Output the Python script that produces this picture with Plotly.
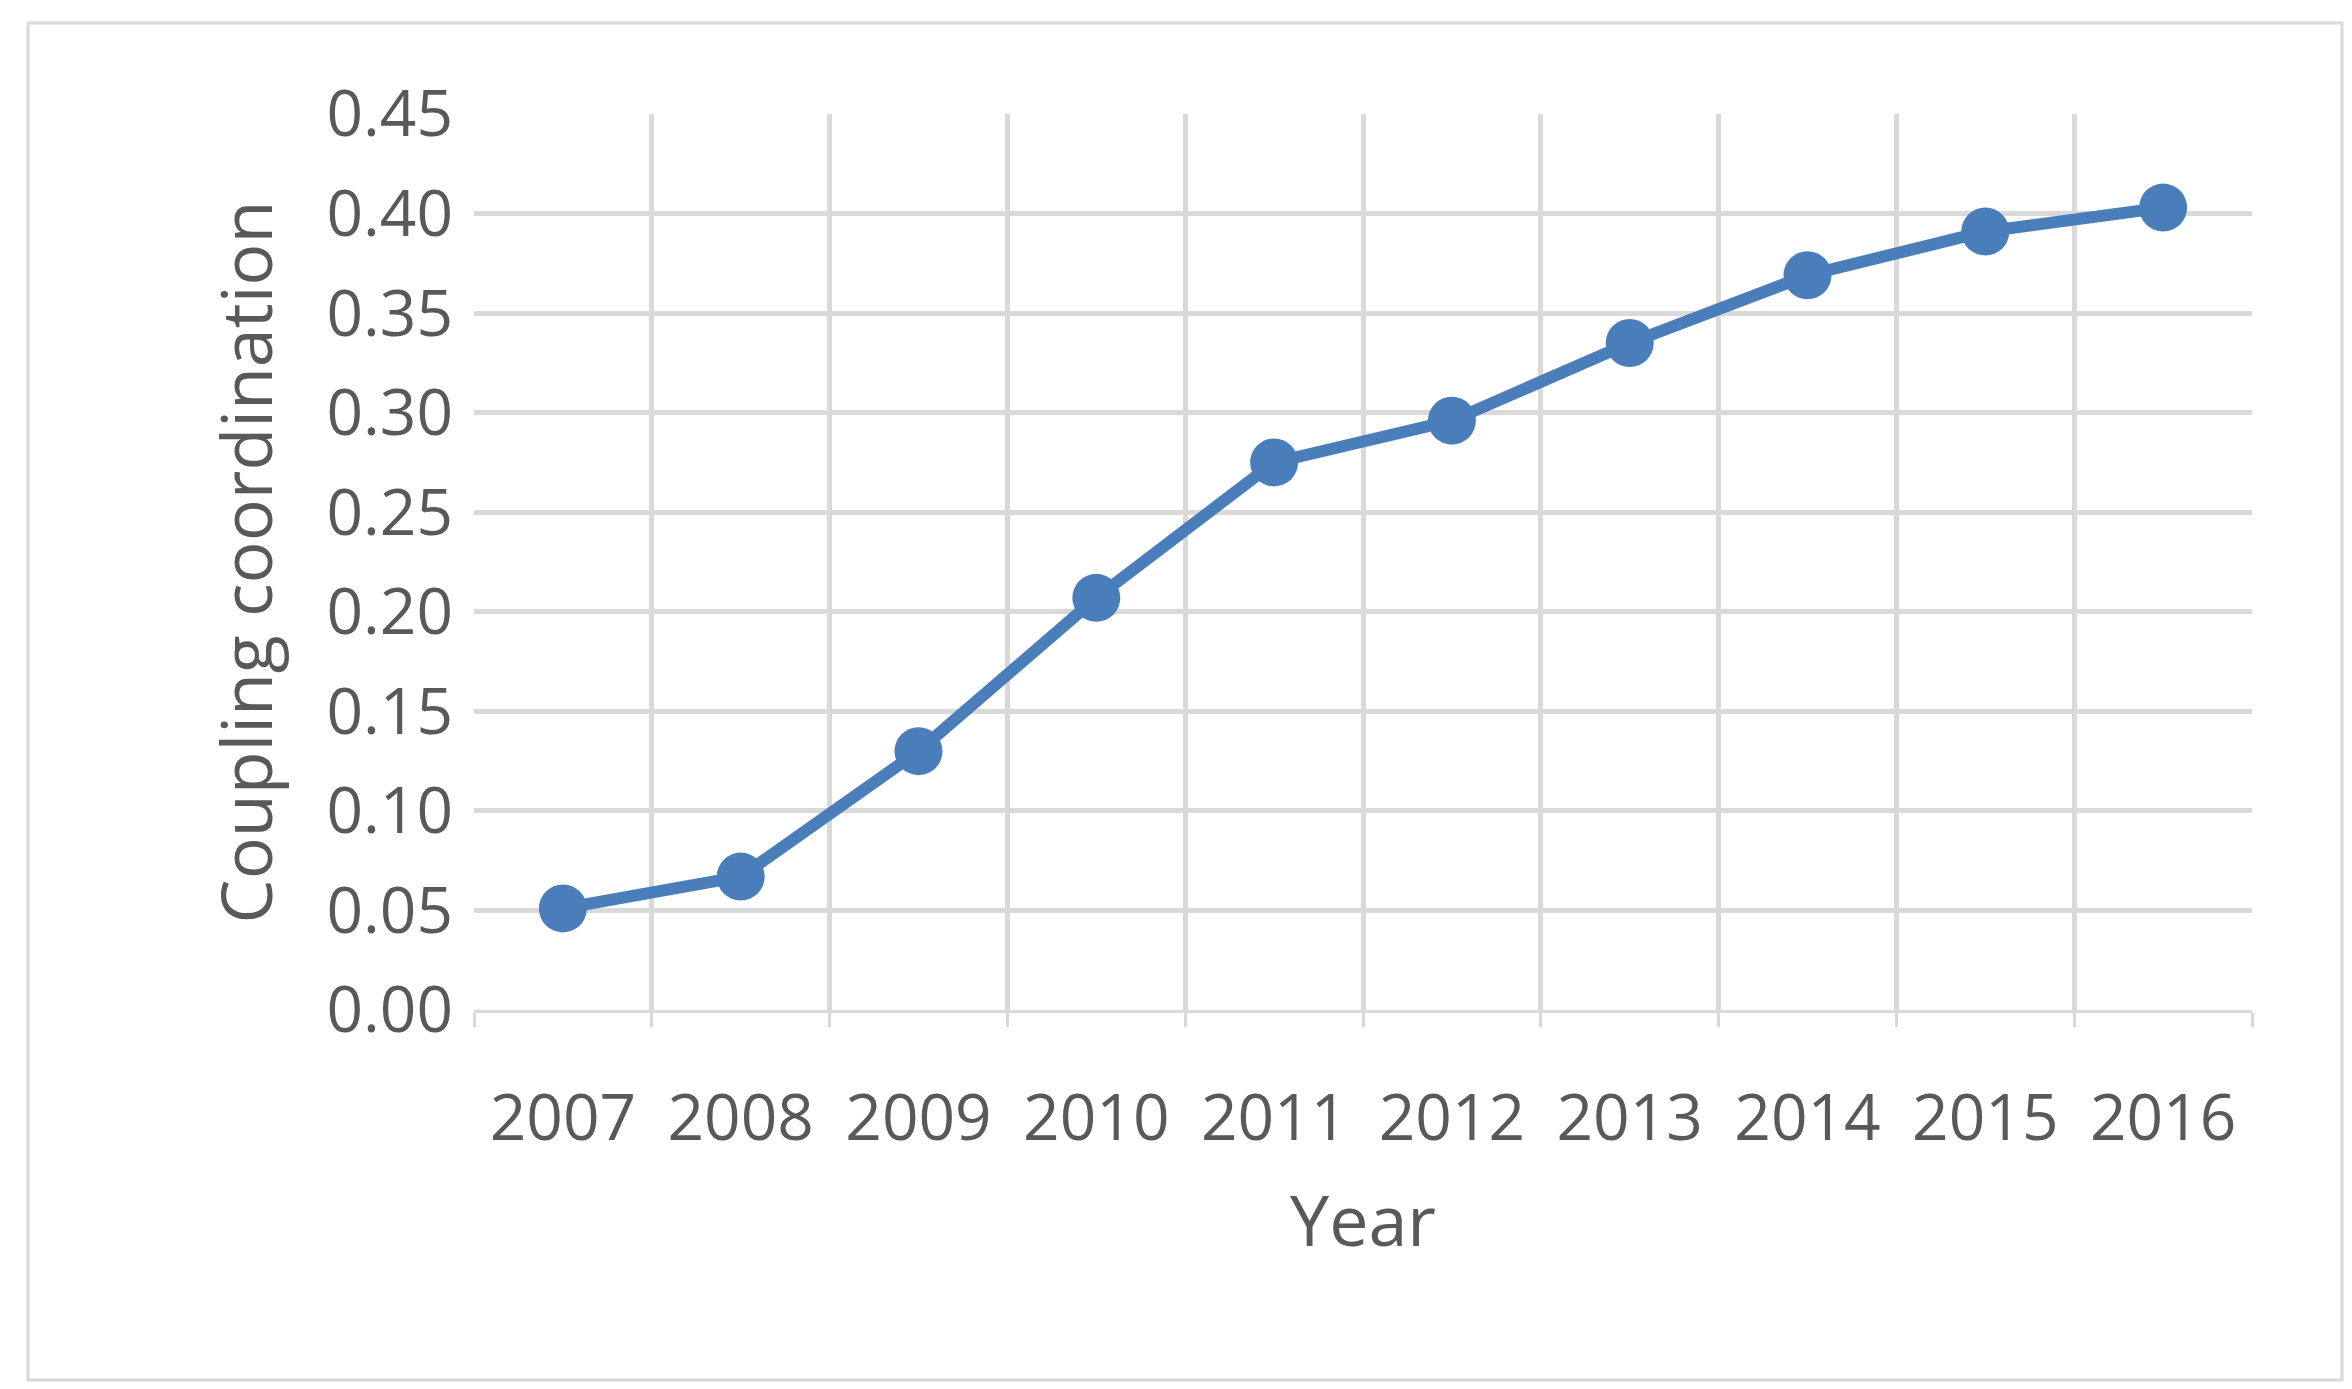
import plotly.graph_objects as go

years = [2007, 2008, 2009, 2010, 2011, 2012, 2013, 2014, 2015, 2016]
coupling = [0.051, 0.067, 0.130, 0.207, 0.275, 0.296, 0.335, 0.369, 0.391, 0.403]

W, H = 2352, 1389
tick_font = dict(family="Open Sans, Liberation Sans, sans-serif", size=64, color="#595959")
title_font = dict(family="Open Sans, Liberation Sans, sans-serif", size=70, color="#595959")

fig = go.Figure()
fig.add_trace(go.Scatter(
    x=years, y=coupling, mode="lines+markers",
    line=dict(color="#4A7EBB", width=12),
    marker=dict(color="#4A7EBB", size=48),
    showlegend=False,
))

fig.update_xaxes(
    range=[2006.5, 2016.5], tickvals=years, ticktext=[str(y) for y in years],
    showgrid=False, showline=True, linecolor="#D9D9D9", linewidth=3,
    ticks="", ticklabelstandoff=50,
    minor=dict(tickvals=[y + 0.5 for y in range(2006, 2017)], showgrid=True,
               gridcolor="#D9D9D9", gridwidth=5, ticks="outside", ticklen=14,
               tickcolor="#D9D9D9", tickwidth=3),
    title=dict(text="Year", standoff=40), tickfont=tick_font, title_font=title_font,
)
fig.update_yaxes(
    range=[0, 0.45], dtick=0.05, tickformat=".2f",
    showgrid=True, gridcolor="#D9D9D9", gridwidth=5, zeroline=False,
    ticklabelstandoff=20,
    title=dict(text="Coupling coordination", standoff=30),
    tickfont=tick_font, title_font=title_font,
)

fig.update_layout(
    width=W, height=H, plot_bgcolor="white", paper_bgcolor="white",
    margin=dict(l=466, r=108, t=106, b=387),
    shapes=[dict(type="rect", xref="paper", yref="paper",
                 x0=-446 / 1778, x1=1 + 90 / 1778, y0=-370 / 896, y1=1 + 91 / 896,
                 line=dict(color="#D9D9D9", width=3))],
)

fig.write_html("out.html")
